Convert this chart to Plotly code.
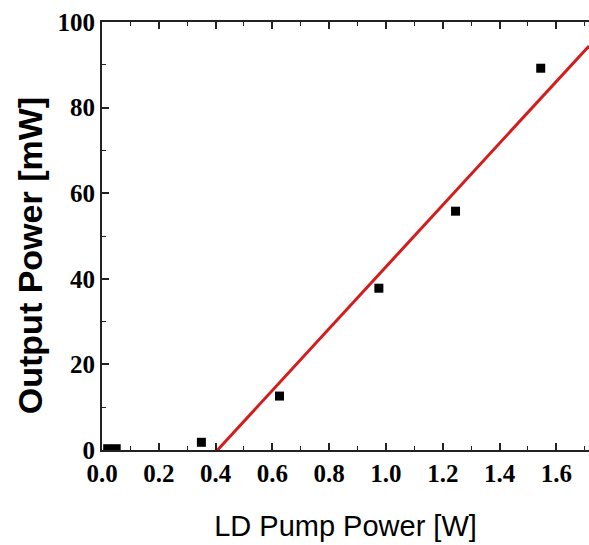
import plotly.graph_objects as go

# Measured data points
pump_power = [0.02, 0.05, 0.35, 0.625, 0.975, 1.245, 1.545]
output_power = [0.3, 0.3, 1.8, 12.6, 37.8, 55.8, 89.2]

# Linear fit line
fit_x = [0.407, 1.715]
fit_y = [0.0, 94.4]

x_ticks = [0.0, 0.2, 0.4, 0.6, 0.8, 1.0, 1.2, 1.4, 1.6]
x_tick_labels = ["0.0", "0.2", "0.4", "0.6", "0.8", "1.0", "1.2", "1.4", "1.6"]
y_ticks = [0, 20, 40, 60, 80, 100]
y_tick_labels = ["0", "20", "40", "60", "80", "100"]

fig = go.Figure()
fig.add_trace(go.Scatter(
    x=fit_x, y=fit_y, mode="lines",
    line=dict(color="#d41c1c", width=3), showlegend=False,
))
fig.add_trace(go.Scatter(
    x=pump_power, y=output_power, mode="markers",
    marker=dict(symbol="square", size=9, color="black"),
    showlegend=False,
))

tickfont = dict(family="Liberation Serif", size=25, color="black", weight="bold")

fig.update_layout(
    width=589, height=545,
    margin=dict(l=102, r=0, t=22, b=95),
    paper_bgcolor="white", plot_bgcolor="white",
    xaxis=dict(
        range=[0, 1.715], tickmode="array", tickvals=x_ticks, ticktext=x_tick_labels,
        ticks="inside", ticklen=7, tickwidth=1.5, tickcolor="#222",
        showline=True, linewidth=2, linecolor="#222", mirror="allticks",
        showgrid=False, zeroline=False, tickfont=tickfont,
        minor=dict(ticks="inside", ticklen=4, tickwidth=1.2, tickcolor="#222", dtick=0.1, tick0=0, showgrid=False),
        title=dict(text="LD Pump Power [W]", font=dict(family="Liberation Sans", size=29, color="black"), standoff=30),
    ),
    yaxis=dict(
        range=[0, 100], tickmode="array", tickvals=y_ticks, ticktext=y_tick_labels,
        ticks="inside", ticklen=7, tickwidth=1.5, tickcolor="#222",
        showline=True, linewidth=2, linecolor="#222", mirror=False,
        showgrid=False, zeroline=False, tickfont=tickfont,
        minor=dict(ticks="inside", ticklen=4, tickwidth=1.2, tickcolor="#222", dtick=10, tick0=0, showgrid=False),
    ),
    annotations=[dict(
        text="Output Power [mW]", textangle=-90, showarrow=False,
        xref="paper", yref="paper", x=-0.148, y=0.455, xanchor="center", yanchor="middle",
        font=dict(family="Liberation Sans", size=34, color="black", weight="bold"),
    )],
)

fig.write_html("out.html")
